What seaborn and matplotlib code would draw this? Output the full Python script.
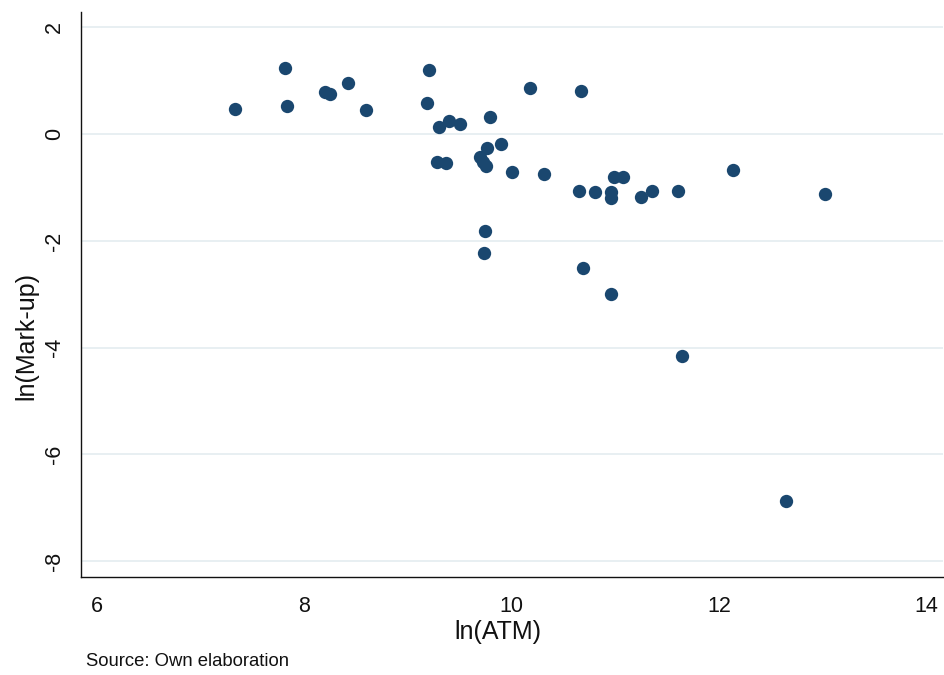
import matplotlib
matplotlib.use("Agg")
import matplotlib.pyplot as plt
import seaborn as sns
import pandas as pd

# Data
ln_atm = [7.33, 7.82, 7.84, 8.20, 8.25, 8.42, 8.60, 9.20, 9.18, 9.30, 9.40, 9.50,
          9.79, 9.28, 9.37, 9.76, 9.90, 9.70, 9.72, 9.75, 10.00, 10.31, 10.18, 9.74,
          9.73, 10.67, 10.65, 10.80, 10.96, 10.96, 10.99, 11.07, 11.25, 11.35, 11.60,
          12.13, 13.02, 10.69, 10.96, 11.64, 12.64]
ln_markup = [0.47, 1.24, 0.53, 0.79, 0.75, 0.96, 0.46, 1.20, 0.58, 0.14, 0.24, 0.19,
             0.32, -0.52, -0.54, -0.26, -0.18, -0.43, -0.52, -0.60, -0.71, -0.75, 0.87, -1.82,
             -2.23, 0.80, -1.07, -1.08, -1.08, -1.19, -0.80, -0.81, -1.18, -1.07, -1.06,
             -0.67, -1.12, -2.51, -3.00, -4.16, -6.88]

x_ticks = [6, 8, 10, 12, 14]
y_ticks = [2, 0, -2, -4, -6, -8]
x_title = "ln(ATM)"
y_title = "ln(Mark-up)"
source_note = "Source: Own elaboration"

df = pd.DataFrame({"ln_atm": ln_atm, "ln_markup": ln_markup})

sns.set_style("white")
plt.rcParams["font.family"] = ["Liberation Sans", "DejaVu Sans"]

fig = plt.figure(figsize=(9.45, 6.75), dpi=100)
ax = fig.add_axes([0.0862, 0.1456, 0.9976 - 0.0862, 0.9827 - 0.1456])

sns.scatterplot(data=df, x="ln_atm", y="ln_markup", ax=ax, color="#1a476f",
                s=92, linewidth=0, zorder=3)

ax.set_xlim(5.855, 14.154)
ax.set_ylim(-8.294, 2.296)
ax.set_xticks(x_ticks)
ax.set_yticks(y_ticks)
ax.set_xticklabels([str(t) for t in x_ticks])
ax.set_yticklabels([str(t) for t in y_ticks])

ax.yaxis.grid(True, color="#e6eef1", linewidth=1.3, zorder=0)
ax.xaxis.grid(False)
ax.set_axisbelow(True)

for s in ["top", "right"]:
    ax.spines[s].set_visible(False)
for s in ["left", "bottom"]:
    ax.spines[s].set_color("#111111")
    ax.spines[s].set_linewidth(1.0)

ax.tick_params(axis="both", direction="out", length=8, width=1.0, color="#111111",
               labelsize=15.5, labelcolor="#111111")
ax.tick_params(axis="x", pad=6)
ax.tick_params(axis="y", pad=4, labelrotation=90)
for lab in ax.get_yticklabels():
    lab.set_va("center")

ax.set_xlabel(x_title, fontsize=18, color="#111111")
ax.set_ylabel(y_title, fontsize=18, color="#111111")
ax.xaxis.set_label_coords(0.483, -0.077)
ax.yaxis.set_label_coords(-0.050, 0.426)

fig.text(86 / 945, 1 - 661 / 675, source_note, fontsize=13.3, color="#111111",
         ha="left", va="center")

fig.savefig("out.png", dpi=100, facecolor="white")
